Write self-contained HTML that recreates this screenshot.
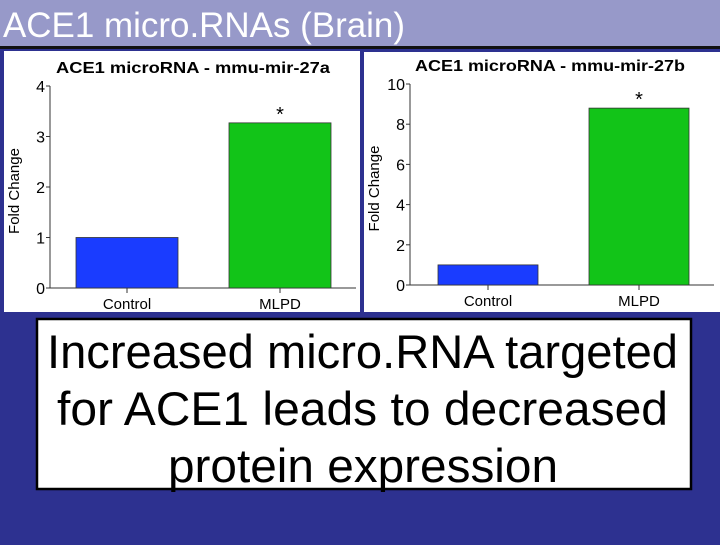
<!DOCTYPE html>
<html><head><meta charset="utf-8"><style>
body{margin:0;width:720px;height:540px;overflow:hidden;background:#2d3190;font-family:"Liberation Sans",sans-serif}
</style></head><body>
<svg width="720" height="540" xmlns="http://www.w3.org/2000/svg">
<rect x="0" y="0" width="720" height="540" fill="#2d3190"/>
<rect x="0" y="0" width="720" height="47" fill="#9799c9"/>
<rect x="0" y="46" width="720" height="3" fill="#111"/>
<text x="3" y="37" font-size="35" fill="#fff" textLength="402" lengthAdjust="spacingAndGlyphs">ACE1 micro.RNAs (Brain)</text>
<rect x="4" y="51" width="356" height="261" fill="#fff"/>
<rect x="364" y="52" width="356" height="260" fill="#fff"/>
<g id="charts"></g>
<rect x="37" y="319" width="654" height="170" fill="#fff" stroke="#000" stroke-width="2.5"/>
<g font-size="47" fill="#000" lengthAdjust="spacingAndGlyphs">
<text x="47" y="368" textLength="631" lengthAdjust="spacingAndGlyphs">Increased micro.RNA targeted</text>
<text x="57" y="425" textLength="611" lengthAdjust="spacingAndGlyphs">for ACE1 leads to decreased</text>
<text x="168" y="482" textLength="390" lengthAdjust="spacingAndGlyphs">protein expression</text>
</g>
</svg>
<script>
const categories=["Control","MLPD"];
const valuesA=[1,3.27];
const valuesB=[1,8.8];
const ticksA=[0,1,2,3,4];
const ticksB=[0,2,4,6,8,10];
const colors=["#1a3cff","#12c418"];
const NS="http://www.w3.org/2000/svg";
const g=document.getElementById('charts');
function mk(t,a,txt){const e=document.createElementNS(NS,t);for(const k in a)e.setAttribute(k,a[k]);if(txt!==undefined)e.textContent=txt;g.appendChild(e);return e;}
function chart(cfg){
 const y=v=>cfg.y0-(v/cfg.max)*(cfg.y0-cfg.yTop);
 let t=mk('text',{x:cfg.tx-cfg.tl/2,y:cfg.ty,'font-size':16,'font-weight':'bold',fill:'#000',textLength:cfg.tl,lengthAdjust:'spacingAndGlyphs'},cfg.title);
 
 
 let ax=mk('line',{x1:cfg.ax,y1:cfg.yTop,x2:cfg.ax,y2:cfg.y0,stroke:'#333'});
 
 
 let bx=mk('line',{x1:cfg.ax,y1:cfg.y0,x2:cfg.xEnd,y2:cfg.y0,stroke:'#333'});
 
 
 cfg.ticks.forEach(v=>{
  let l=mk('line',{x1:cfg.ax-4,y1:y(v),x2:cfg.ax,y2:y(v),stroke:'#333'});
  
  
  let tl=mk('text',{x:cfg.ax-5,y:y(v)+6,'font-size':16,'text-anchor':'end',fill:'#000'},String(v));
  
  
 });
 let yt=mk('text',{x:0,y:0,'font-size':15,'text-anchor':'middle',fill:'#000',transform:`translate(${cfg.ytx},${(cfg.y0+cfg.yTop)/2+4}) rotate(-90)`},'Fold Change');
 
 
 cfg.vals.forEach((v,i)=>{
  const x=cfg.bx[i],w=cfg.bw;
  let r=mk('rect',{x:x,y:y(v),width:w,height:cfg.y0-y(v),fill:colors[i],stroke:'#333','stroke-width':0.8});
  
  
  let tk=mk('line',{x1:x+w/2,y1:cfg.y0,x2:x+w/2,y2:cfg.y0+5,stroke:'#333'});
  
  
  let cl=mk('text',{x:x+w/2,y:cfg.y0+21,'font-size':15,'text-anchor':'middle',fill:'#000'},categories[i]);
  
  
  if(i==1){let s=mk('text',{x:x+w/2,y:y(v)-2,'font-size':20,'text-anchor':'middle',fill:'#000'},'*');
  
  }
 });
}
chart({id:'mir27a',title:'ACE1 microRNA - mmu-mir-27a',tx:193,tl:274,ty:73,ax:50,xEnd:356,y0:288,yTop:86,max:4,ticks:ticksA,vals:valuesA,bx:[76,229],bw:102,ytx:19});
chart({id:'mir27b',title:'ACE1 microRNA - mmu-mir-27b',tx:550,tl:270,ty:71,ax:410,xEnd:714,y0:285,yTop:84,max:10,ticks:ticksB,vals:valuesB,bx:[438,589],bw:100,ytx:379});
</script>
</body></html>
